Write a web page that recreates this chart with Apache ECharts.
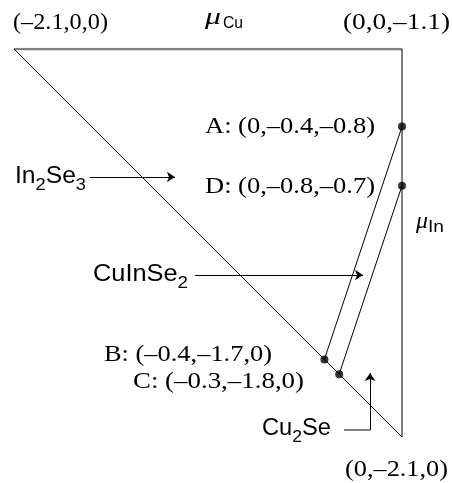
<!DOCTYPE html>
<html>
<head>
    <meta charset="UTF-8">
    <title>CuInSe2 chemical potential triangle</title>
    <script src="https://cdn.jsdelivr.net/npm/echarts@6/dist/echarts.min.js"></script>
    <style>
        html, body { margin: 0; padding: 0; background: #fff; }
        #main { width: 452px; height: 483px; }
    </style>
</head>
<body>
<div id="main"></div>
<script type="text/javascript">

    // corners of the triangle (muCu, muIn)
    var topEdgeCu = [-2.1, 0];
    var topEdgeIn = [0, 0];
    var sideCu = [0, 0, -2.1];
    var sideIn = [0, -2.1, 0];

    // marked points
    var ptNames = ['A', 'D', 'B', 'C'];
    var ptCu = [0, 0, -0.42, -0.34];
    var ptIn = [-0.42, -0.74, -1.68, -1.76];

    // phase boundary lines A-B and D-C
    var boundFrom = ['A', 'D'];
    var boundTo = ['B', 'C'];

    // arrows for the phase labels (start, tip)
    var arrowFrom = [[-1.69, -0.693], [-1.12, -1.223], [-0.173, -2.062]];
    var arrowTo = [[-1.229, -0.693], [-0.211, -1.223], [-0.173, -1.754]];
    var elbowCu = [-0.314, -0.173];
    var elbowIn = [-2.062, -2.062];

    var myChart = echarts.init(document.getElementById('main'));

    function pt(name) {
        var i = ptNames.indexOf(name);
        return [ptCu[i], ptIn[i]];
    }
    function zip(a, b) {
        return a.map(function (v, i) { return [v, b[i]]; });
    }

    var serif = '24px "Liberation Serif", "Times New Roman", serif';
    var muFont = 'italic 24px "Liberation Serif", "Times New Roman", serif';
    var sans = '23px "Liberation Sans", Arial, sans-serif';
    var sub = '17px "Liberation Sans", Arial, sans-serif';
    var small = '16px "Liberation Sans", Arial, sans-serif';

    // text pieces laid out left to right, then stretched to the width seen in the picture
    var ctx = document.createElement('canvas').getContext('2d');
    function label(left, right, cy, parts) {
        var x = 0, kids = [];
        parts.forEach(function (p) {
            ctx.font = p[1];
            kids.push({
                type: 'text', x: x, y: p[2] || 0,
                style: {
                    text: p[0], font: p[1], fill: '#000',
                    align: 'left', verticalAlign: 'middle',
                    textAlign: 'left', textVerticalAlign: 'middle'
                }
            });
            x += ctx.measureText(p[0]).width;
        });
        return { type: 'group', x: left, y: cy, scaleX: (right - left) / x, silent: true, children: kids };
    }

    var texts = [
        label(13, 108, 23, [['(\u20132.1,0,0)', serif]]),
        label(343, 450, 23, [['(0,0,\u20131.1)', serif]]),
        label(205, 221, 18, [['\u03bc', muFont]]),
        label(223, 243, 24, [['Cu', small]]),
        label(205, 375, 127, [['A: (0,\u20130.4,\u20130.8)', serif]]),
        label(205, 375, 187, [['D: (0,\u20130.8,\u20130.7)', serif]]),
        label(416, 428, 222, [['\u03bc', muFont]]),
        label(428, 444, 228, [['In', small]]),
        label(15, 86, 177, [['In', sans], ['2', sub, 8], ['Se', sans], ['3', sub, 8]]),
        label(93, 188, 275, [['CuInSe', sans], ['2', sub, 8]]),
        label(104, 272, 355, [['B: (\u20130.4,\u20131.7,0)', serif]]),
        label(133, 304, 382, [['C: (\u20130.3,\u20131.8,0)', serif]]),
        label(262, 331, 429, [['Cu', sans], ['2', sub, 8], ['Se', sans]]),
        label(345, 448, 470, [['(0,\u20132.1,0)', serif]])
    ];

    var option = {
        animation: false,
        grid: { left: 14, right: 50, top: 49, bottom: 46 },
        xAxis: { type: 'value', min: -2.1, max: 0, show: false },
        yAxis: { type: 'value', min: -2.1, max: 0, show: false },
        graphic: texts,
        series: [
            {
                // top edge, drawn grey and heavier
                type: 'line', silent: true, symbol: 'none',
                data: zip(topEdgeCu, topEdgeIn),
                lineStyle: { color: '#808080', width: 2.5 }
            },
            {
                type: 'line', silent: true, symbol: 'none',
                data: zip(sideCu, sideIn),
                lineStyle: { color: '#000', width: 1 }
            },
            {
                type: 'lines', coordinateSystem: 'cartesian2d', silent: true,
                data: boundFrom.map(function (n, i) { return { coords: [pt(n), pt(boundTo[i])] }; }),
                lineStyle: { color: '#000', width: 1, opacity: 1 }
            },
            {
                type: 'line', silent: true, symbol: 'none',
                data: zip(elbowCu, elbowIn),
                lineStyle: { color: '#000', width: 1 }
            },
            {
                type: 'lines', coordinateSystem: 'cartesian2d', silent: true,
                symbol: ['none', 'arrow'], symbolSize: 8,
                data: arrowFrom.map(function (a, i) { return { coords: [a, arrowTo[i]] }; }),
                lineStyle: { color: '#000', width: 1, opacity: 1 }
            },
            {
                type: 'scatter', silent: true,
                symbol: 'circle', symbolSize: 8,
                data: zip(ptCu, ptIn),
                itemStyle: { color: '#000' }
            }
        ]
    };
    myChart.setOption(option);
</script>
</body>
</html>
